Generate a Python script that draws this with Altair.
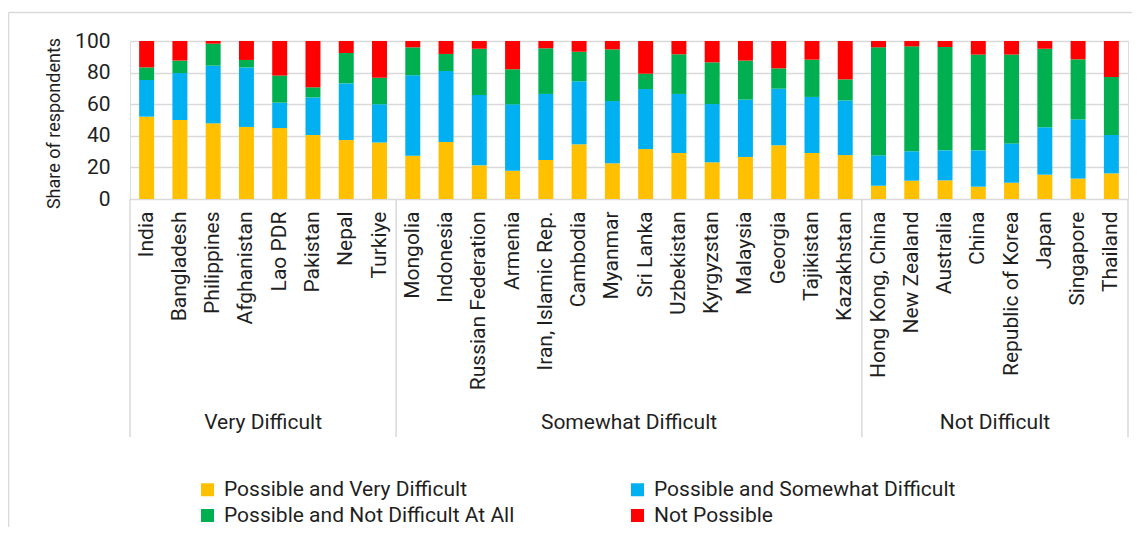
import altair as alt
import pandas as pd

groups = ["Very Difficult", "Somewhat Difficult", "Not Difficult"]
group_countries = [
    ["India", "Bangladesh", "Philippines", "Afghanistan", "Lao PDR", "Pakistan", "Nepal", "Turkiye"],
    ["Mongolia", "Indonesia", "Russian Federation", "Armenia", "Iran, Islamic Rep.", "Cambodia",
     "Myanmar", "Sri Lanka", "Uzbekistan", "Kyrgyzstan", "Malaysia", "Georgia", "Tajikistan", "Kazakhstan"],
    ["Hong Kong, China", "New Zealand", "Australia", "China", "Republic of Korea", "Japan",
     "Singapore", "Thailand"],
]

series = ["Possible and Very Difficult", "Possible and Somewhat Difficult",
          "Possible and Not Difficult At All", "Not Possible"]
colors = ["#FFC000", "#00B0F0", "#00B050", "#FF0000"]

very_difficult = [52.1, 50.0, 47.9, 45.6, 44.9, 40.5, 37.3, 35.7,
                  27.4, 36.1, 21.3, 17.9, 24.7, 34.6, 22.6, 31.6, 29.1, 23.2, 26.6, 34.0, 29.1, 27.8,
                  8.4, 11.6, 11.8, 7.8, 10.3, 15.4, 12.9, 16.2]
somewhat_difficult = [23.2, 29.7, 36.5, 37.7, 16.1, 23.8, 35.9, 24.2,
                      50.9, 44.9, 44.5, 42.0, 41.8, 39.9, 39.4, 38.0, 37.4, 36.9, 36.3, 35.8, 35.5, 34.6,
                      19.2, 18.6, 19.0, 23.0, 24.9, 30.0, 37.5, 24.3]
not_difficult = [8.0, 7.9, 13.9, 4.7, 17.1, 6.4, 19.2, 16.9,
                 17.7, 10.8, 29.3, 22.2, 28.9, 18.7, 32.7, 9.7, 25.1, 26.4, 24.7, 12.9, 23.6, 13.3,
                 68.4, 66.4, 65.4, 60.6, 56.2, 49.7, 38.0, 36.7]
not_possible = [16.7, 12.4, 1.7, 12.0, 21.9, 29.3, 7.6, 23.2,
                4.0, 8.2, 4.9, 17.9, 4.6, 6.8, 5.3, 20.7, 8.4, 13.5, 12.4, 17.3, 11.8, 24.3,
                4.0, 3.4, 3.8, 8.6, 8.6, 4.9, 11.6, 22.8]

countries = [c for g in group_countries for c in g]
n = len(countries)
values = [very_difficult, somewhat_difficult, not_difficult, not_possible]

rows = []
for k, s in enumerate(series):
    for i, c in enumerate(countries):
        rows.append({"country": c, "series": s, "k": k, "value": values[k][i]})
df = pd.DataFrame(rows)

bounds = [0]
for g in group_countries:
    bounds.append(bounds[-1] + len(g))
sep_df = pd.DataFrame({"pos": bounds})
grp_df = pd.DataFrame({"group": groups,
                       "pos": [(bounds[i] + bounds[i + 1]) / 2 for i in range(len(groups))]})

# legend fills column by column, so list entries to read row by row like the original
legend_order = [series[0], series[2], series[1], series[3]]
legend_colors = [colors[0], colors[2], colors[1], colors[3]]

FONT = "Roboto"
TXT = "#1f1f1f"
GRID = "#d9d9d9"
FS = 21
W, H = 998, 158

bars = alt.Chart(df).mark_bar().encode(
    x=alt.X("country:N", sort=countries,
            scale=alt.Scale(paddingInner=0.55, paddingOuter=0.275),
            axis=alt.Axis(title=None, labelAngle=-90, ticks=False, domain=False, grid=False,
                          labelPadding=12, labelFontSize=FS, labelColor=TXT, labelFont=FONT,
                          labelLimit=300)),
    y=alt.Y("value:Q", stack="zero", scale=alt.Scale(domain=[0, 100], nice=False),
            axis=alt.Axis(title="Share of respondents", values=[0, 20, 40, 60, 80, 100],
                          ticks=False, domain=False, grid=True, gridColor=GRID, gridWidth=1.3,
                          labelPadding=20, labelFontSize=FS, labelColor=TXT, labelFont=FONT,
                          titleFontSize=18, titleFontWeight="normal", titleColor=TXT,
                          titleFont=FONT, titleX=-76, titleY=82, titleBaseline="middle")),
    color=alt.Color("series:N", scale=alt.Scale(domain=legend_order, range=legend_colors),
                    legend=alt.Legend(title=None, orient="none", legendX=67, legendY=438,
                                      columns=2, columnPadding=112, rowPadding=4,
                                      symbolType="square", symbolSize=169, symbolStrokeWidth=0,
                                      labelFontSize=FS, labelFont=FONT, labelColor=TXT,
                                      labelOffset=6, labelLimit=500)),
    order=alt.Order("k:Q", sort="ascending"),
)

xs = alt.Scale(domain=[0, n], nice=False, zero=False)

seps = alt.Chart(sep_df).mark_rule(color=GRID, strokeWidth=1.5).encode(
    x=alt.X("pos:Q", scale=xs, axis=None),
    y=alt.value(H),
    y2=alt.value(396),
)

glabels = alt.Chart(grp_df).mark_text(fontSize=FS, font=FONT, color=TXT, baseline="middle").encode(
    x=alt.X("pos:Q", scale=xs, axis=None),
    y=alt.value(382),
    text="group:N",
)

border_top = alt.Chart(pd.DataFrame({"a": [0]})).mark_rule(color=GRID, strokeWidth=1.5).encode(
    x=alt.value(-121.5), x2=alt.value(1100), y=alt.value(-28.5))
border_left = alt.Chart(pd.DataFrame({"a": [0]})).mark_rule(color=GRID, strokeWidth=1.5).encode(
    x=alt.value(-121.5), y=alt.value(-28.5), y2=alt.value(600))

chart = alt.layer(bars, seps, glabels, border_top, border_left).resolve_scale(
    x="independent"
).properties(
    width=W, height=H,
    autosize=alt.AutoSizeParams(type="none"),
    padding={"left": 122, "top": 33, "right": 4, "bottom": 328},
).configure_view(stroke=None).configure(background="white")

chart.save("out.html", embed_options={"renderer": "svg", "actions": False})
